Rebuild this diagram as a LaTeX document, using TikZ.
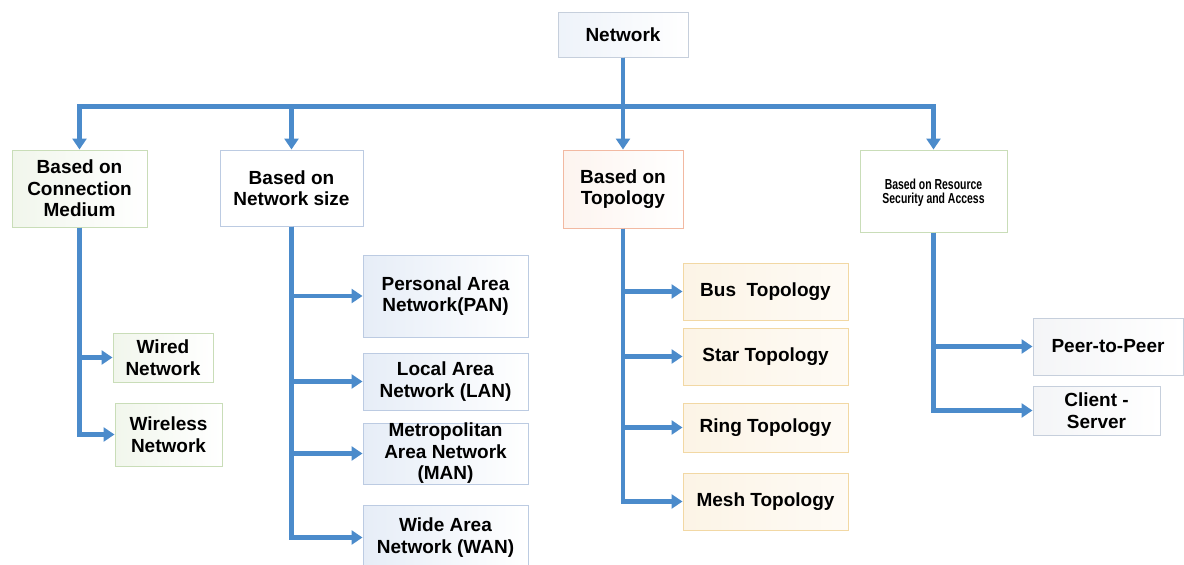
\documentclass[tikz,border=0pt]{standalone}
\usepackage{fontspec}
\setmainfont{Liberation Sans}
\newfontfamily\narrowfont[FakeStretch=0.72]{Liberation Sans}
\usetikzlibrary{arrows.meta}

\definecolor{linkblue}{HTML}{4B8BCB}
\definecolor{greyedge}{HTML}{C6CFDC}
\definecolor{greenedge}{HTML}{C9DDB8}
\definecolor{blueedge}{HTML}{BCCBE2}
\definecolor{salmonedge}{HTML}{F2B9A2}
\definecolor{sandedge}{HTML}{F2D8A4}
\definecolor{paleblue}{HTML}{E6EDF7}
\definecolor{palegreen}{HTML}{F1F6EC}
\definecolor{palecream}{HTML}{FCF4E6}
\definecolor{palepeach}{HTML}{FDF4EF}
\definecolor{palegrey}{HTML}{F4F5F7}

\tikzset{
  box/.style={draw, line width=1pt, inner sep=0pt, align=center,
    font=\fontsize{19}{21.5}\selectfont\bfseries, text=black},
  rootbox/.style={box, draw=greyedge, left color=paleblue!70, right color=white},
  greenbox/.style={box, draw=greenedge, left color=palegreen, right color=white},
  bluebox/.style={box, draw=blueedge, fill=white},
  sizebox/.style={box, draw=blueedge, left color=paleblue, right color=white},
  topobox/.style={box, draw=salmonedge, left color=palepeach, right color=white},
  kindbox/.style={box, draw=sandedge, left color=palecream, right color=white!60!palecream},
  greybox/.style={box, draw=greyedge, left color=palegrey, right color=white},
  link/.style={draw=linkblue, line width=4.5pt,
    -{Triangle[length=11pt,width=14pt]}},
}

\begin{document}
\begin{tikzpicture}[x=1pt, y=-1pt]
\useasboundingbox (0,0) rectangle (1184,565);

% root
\node[rootbox, minimum width=130pt, minimum height=45pt] (net) at (623,34.5) {Network};

% four classification criteria
\node[greenbox, minimum width=135pt, minimum height=77pt] (med) at (79.5,188.5)
  {Based on\\Connection\\Medium};
\node[bluebox, minimum width=143pt, minimum height=76pt] (size) at (291.5,188)
  {Based on\\Network size};
\node[topobox, minimum width=120pt, minimum height=78pt] (topo) at (623,189)
  {Based on\\Topology};
\node[bluebox, draw=greenedge, minimum width=147pt, minimum height=82pt,
      font=\narrowfont\fontsize{14.5}{14}\selectfont\bfseries] (res) at (933.5,191)
  {\mbox{}\\Based on Resource\\Security and Access};

% connection medium
\node[greenbox, minimum width=100pt, minimum height=49pt] (wired) at (163,357.5)
  {Wired\\Network};
\node[greenbox, minimum width=107pt, minimum height=63pt] (wireless) at (168.5,434.5)
  {Wireless\\Network};

% network size
\node[sizebox, minimum width=165pt, minimum height=82pt] (pan) at (445.5,296)
  {Personal Area\\Network(PAN)};
\node[sizebox, minimum width=165pt, minimum height=57pt] (lan) at (445.5,381.5)
  {Local Area\\Network (LAN)};
\node[sizebox, minimum width=165pt, minimum height=61pt] (man) at (445.5,453.5)
  {Metropolitan\\Area Network\\(MAN)};
\node[sizebox, minimum width=165pt, minimum height=65pt] (wan) at (445.5,537.5)
  {Wide Area\\Network (WAN)};

% topology
\node[kindbox, minimum width=165pt, minimum height=57pt] (bus) at (765.5,291.5)
  {Bus\ \ Topology};
\node[kindbox, minimum width=165pt, minimum height=57pt] (star) at (765.5,356.5)
  {Star Topology};
\node[kindbox, minimum width=165pt, minimum height=49pt] (ring) at (765.5,427.5)
  {Ring Topology};
\node[kindbox, minimum width=165pt, minimum height=57pt] (mesh) at (765.5,501.5)
  {Mesh Topology};

% resource security and access
\node[greybox, minimum width=150pt, minimum height=57pt] (peer) at (1108,346.5)
  {Peer-to-Peer};
\node[greybox, minimum width=127pt, minimum height=49pt] (client) at (1096.5,410.5)
  {Client -\\Server};

% root to criteria
\draw[link] (net.south) -- ++(0,49) -| (med.north);
\draw[link] (net.south) -- ++(0,49) -| (size.north);
\draw[link] (net.south) -- ++(0,49) -| (res.north);
\draw[link] (net.south) -- (topo.north);

% criteria to kinds
\draw[link] (med.south) |- (wired.west);
\draw[link] (med.south) |- (wireless.west);

\draw[link] (size.south) |- (pan.west);
\draw[link] (size.south) |- (lan.west);
\draw[link] (size.south) |- (man.west);
\draw[link] (size.south) |- (wan.west);

\draw[link] (topo.south) |- (bus.west);
\draw[link] (topo.south) |- (star.west);
\draw[link] (topo.south) |- (ring.west);
\draw[link] (topo.south) |- (mesh.west);

\draw[link] (res.south) |- (peer.west);
\draw[link] (res.south) |- (client.west);
\end{tikzpicture}
\end{document}
